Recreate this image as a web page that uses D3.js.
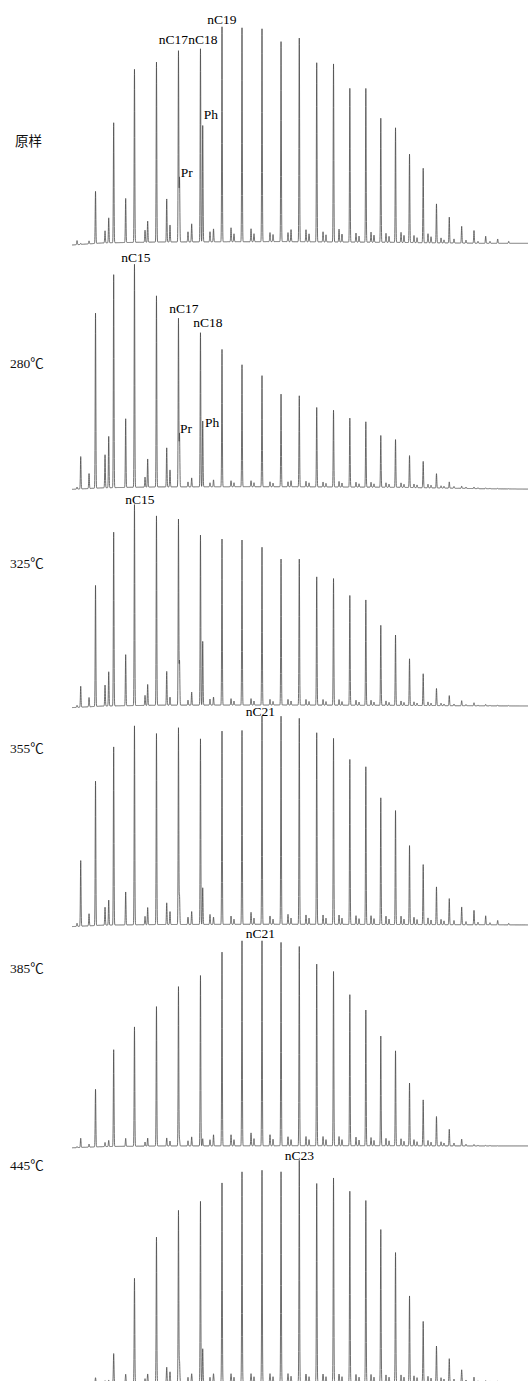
<!DOCTYPE html>
<html lang="zh">
<head>
  <meta charset="utf-8">
  <title>GC chromatograms</title>
  <script src="https://cdn.jsdelivr.net/npm/d3@7/dist/d3.min.js"></script>
  <style>
    body { margin: 0; background: #fff; }
  </style>
</head>
<body>
  <svg class="chart" width="528" height="1381"></svg>
  <script>
    // sample names (temperature steps)
    var panelNames = ["原样", "280℃", "325℃", "355℃", "385℃", "445℃"];

    // n-alkanes and retention times (min)
    var alkanes = ["nC12", "nC13", "nC14", "nC15", "nC16", "nC17", "nC18", "nC19", "nC20",
                   "nC21", "nC22", "nC23", "nC24", "nC25", "nC26", "nC27", "nC28", "nC29",
                   "nC30", "nC31", "nC32", "nC33", "nC34", "nC35", "nC36", "nC37", "nC38"];
    var alkaneRT = [5.09, 6.94, 9.21, 11.81, 14.56, 17.31, 20.06, 22.75, 25.25,
                    27.75, 30.13, 32.41, 34.59, 36.69, 38.73, 40.73, 42.6, 44.44,
                    46.19, 47.9, 49.56, 51.16, 52.71, 54.25, 55.71, 57.21, 58.59];

    // relative abundance (% of tallest peak in each run)
    var alkaneH = [
      [0.5, 24.2, 55.8, 80.5, 83.7, 88.8, 89.8, 100, 99.5, 99, 93, 94.7, 83.3, 82.8, 71.5, 71.5, 57.7, 53.3, 41.1, 34.6, 18.1, 12, 7.8, 5.9, 3.3, 2, 0.9],
      [14.5, 78.5, 95.5, 100, 85.7, 75.5, 69.1, 61.6, 54.7, 49.8, 41.5, 40.8, 35.6, 34.4, 30.9, 29.3, 23.2, 21.4, 14.3, 11.8, 6.4, 2.8, 1.0, 0.7, 0.4, 0.2, 0.1],
      [10.4, 60.2, 86.4, 100, 94.2, 92.5, 84.6, 82.6, 82.1, 78.5, 72.6, 72.6, 63.8, 63, 54.6, 52.4, 39.8, 35, 23.2, 15.8, 8.5, 5, 2.5, 1.5, 0.7, 0.4, 0.2],
      [31.5, 69.3, 85.5, 95.5, 91.7, 94.4, 89.1, 92.8, 93.1, 100, 99.9, 98.9, 92, 89.3, 79.2, 75.7, 60.8, 54.7, 37.9, 28.8, 18.1, 12.5, 8.5, 6.9, 4.3, 2.1, 0.7],
      [4.5, 28.1, 47.2, 58.2, 68, 77.7, 83.1, 94.5, 100, 100, 99.2, 97.2, 88.6, 85, 73.7, 66.2, 53.5, 46.3, 30.6, 22.4, 14.3, 8.1, 3.3, 0.7, 0.3, 0.1, 0],
      [0, 2.3, 13, 46.9, 65.4, 77.4, 81.5, 89.8, 94.8, 95.5, 94.8, 100, 89.5, 92, 86, 81.8, 68.7, 58.3, 38.7, 27.2, 16.1, 10.4, 5.4, 2.1, 0.5, 0.2, 0]
    ];

    // pristane / phytane
    var prRT = 17.44, phRT = 20.34;
    var prH = [29.8, 23.8, 22, 13.6, 3, 9.2];
    var phH = [54.1, 29.5, 31.7, 17.6, 3.5, 14.9];

    // unresolved small peaks between the alkanes
    var minorRT = [4.63, 6.13, 8.13, 8.59, 10.71, 13.13, 13.46, 15.84, 16.25, 18.5, 18.96, 21.25, 21.69,
                   23.88, 24.25, 26.38, 26.75, 28.75, 29.13, 31.0, 31.38, 33.25, 33.63, 35.38, 35.75,
                   37.38, 37.75, 39.5, 39.88, 41.38, 41.75, 43.25, 43.63, 45.13, 45.5, 46.75, 47.13,
                   48.5, 48.88, 50.13, 50.5, 51.75, 53.25, 54.75, 56.25];
    var minorH = [
      [1.9, 1.4, 5.6, 11.6, 20.5, 5.6, 9.8, 20, 7.9, 4.7, 8.4, 4.7, 6, 6.5, 3.7, 6, 3.7, 4.2, 3.3, 4.2, 5.6, 5.6, 3.7, 4.7, 3.3, 6, 3.7, 4.2, 2.8, 4.7, 3.3, 4.2, 2.8, 4.7, 3.3, 3.3, 2.3, 4.2, 2.8, 2.3, 1.4, 1.9, 1.4, 0.9, 0.9],
      [0.9, 6.7, 14.8, 23, 30.8, 4.5, 12.6, 17.5, 7.6, 2.2, 4, 1.8, 3.1, 2.7, 1.8, 2.7, 1.8, 2.2, 1.6, 2.2, 2.7, 2.5, 1.8, 2.2, 1.6, 2.5, 1.8, 2.2, 1.5, 2.2, 1.5, 2, 1.4, 2, 1.4, 1.6, 1.2, 1.6, 1.2, 1, 0.8, 0.8, 0.6, 0.4, 0.3],
      [1, 4.6, 10.4, 17, 25.4, 5, 10.4, 16.8, 4, 2.5, 6.5, 3, 4, 3.2, 2, 3.2, 2, 2.8, 1.8, 2.8, 2, 2.8, 1.8, 2.8, 1.8, 2.8, 1.8, 2.5, 1.6, 2.5, 1.6, 2.2, 1.5, 2.2, 1.5, 1.8, 1.2, 1.8, 1.2, 1.2, 0.8, 0.8, 0.6, 0.4, 0.3],
      [1.5, 5.8, 8.6, 12, 15.8, 4, 8.2, 10.4, 6.2, 3.5, 6.2, 4.8, 3.5, 4, 2.5, 5.8, 3, 4, 2.5, 4.8, 3, 4.5, 3, 4.5, 3, 4.5, 3, 4.2, 2.8, 4.2, 2.8, 4, 2.6, 4, 2.6, 3.5, 2.4, 3.2, 2.2, 2.5, 1.8, 2, 1.5, 1.2, 1],
      [0.5, 1.5, 2, 3, 3.9, 2, 3.9, 3.9, 2.4, 2.5, 4.4, 3, 5.4, 5.4, 3, 6.3, 3.5, 5.4, 3.2, 4.4, 3, 4.5, 3, 4.5, 3, 4.5, 3, 4.2, 2.8, 4, 2.6, 3.6, 2.4, 3.4, 2.2, 3, 2, 2.6, 1.8, 2, 1.4, 1.4, 0.8, 0.4, 0.3],
      [0, 0.3, 0.8, 1, 3.6, 1.5, 3.6, 6.6, 4.5, 2, 3.6, 2, 3.6, 3.6, 2, 3.6, 2.2, 3.6, 2.2, 3.6, 2.4, 3.4, 2.2, 3.4, 2.2, 3.4, 2.2, 3.2, 2, 3.2, 2, 3, 2, 3, 2, 2.6, 1.8, 2.4, 1.6, 1.8, 1.2, 1.2, 0.8, 0.4, 0.2]
    ];

    // unresolved hump under the baseline
    var ucmRT = [4, 8, 15, 30, 45, 55, 61];
    var ucmH = [
      [0, 1, 1.4, 1.6, 1.2, 0.8, 0.8],
      [0.3, 1, 1.4, 1.5, 1.2, 0.6, 0.4],
      [0.2, 1, 1.4, 1.5, 1.3, 1.1, 1],
      [0.2, 0.9, 1.2, 1.3, 1.2, 1.1, 1],
      [0.1, 0.7, 1, 1.1, 1.1, 1, 1],
      [0.1, 0.7, 1, 1.1, 1.1, 1, 1]
    ];

    // labelled peaks: [run, text]
    var peakLabels = [
      [0, "nC19"], [0, "nC17"], [0, "nC18"], [0, "Ph"], [0, "Pr"],
      [1, "nC15"], [1, "nC17"], [1, "nC18"], [1, "Pr"], [1, "Ph"],
      [2, "nC15"], [3, "nC21"], [4, "nC21"], [5, "nC23"]
    ];

    // ---- layout ----
    var width = 528, height = 1381;
    var baseY = [245, 490, 708, 927, 1148, 1384];
    var fullH = [215, 223, 201, 208.3, 205, 221.3];
    var nameY = [146, 368, 568, 753, 973, 1170];
    var nameX = [15, 10, 10, 10, 10, 10];
    // label offsets: dx from apex, dy above apex, anchor
    var labelShift = [
      [0, 3, "middle"], [-5, 7, "middle"], [2.5, 5, "middle"], [1, 6.7, "start"], [1.2, 0, "start"],
      [1.5, 2, "middle"], [5.5, 5.7, "middle"], [7.5, 6, "middle"], [0.5, 0, "start"], [2.3, -6, "start"],
      [5.5, 1, "middle"], [-1.5, 0, "middle"], [-1.5, 3, "middle"], [0, 0, "middle"]
    ];
    var sigma = 0.04, step = 0.01;

    var x = d3.scaleLinear().domain([4, 61]).range([72, 528]);

    var svg = d3.select("svg.chart");
    svg.append("rect").attr("width", width).attr("height", height).attr("fill", "#fff");

    panelNames.forEach(function(name, p) {
      var y = d3.scaleLinear().domain([0, 100]).range([baseY[p], baseY[p] - fullH[p]]);
      var ucm = d3.scaleLinear().domain(ucmRT).range(ucmH[p]).clamp(true);

      var peaks = [];
      alkaneRT.forEach(function(t, i) { peaks.push({ rt: t, h: alkaneH[p][i] }); });
      peaks.push({ rt: prRT, h: prH[p] }, { rt: phRT, h: phH[p] });
      minorRT.forEach(function(t, i) { peaks.push({ rt: t, h: minorH[p][i] }); });

      function signal(t) {
        var s = ucm(t);
        peaks.forEach(function(k) {
          var d = (t - k.rt) / sigma;
          if (d > -6 && d < 6) s += k.h * Math.exp(-0.5 * d * d);
        });
        return s;
      }

      var pts = d3.range(4, 61 + step / 2, step).map(function(t) { return [t, signal(t)]; });
      // make sure apexes are sampled
      peaks.forEach(function(k) { pts.push([k.rt, signal(k.rt)]); });
      pts.sort(function(a, b) { return a[0] - b[0]; });

      var line = d3.line()
                   .x(function(d) { return x(d[0]); })
                   .y(function(d) { return y(d[1]); });

      svg.append("path")
         .datum(pts)
         .attr("d", line)
         .attr("fill", "none")
         .attr("stroke", "#4a4a4a")
         .attr("stroke-width", 0.8)
         .attr("stroke-linejoin", "round");

      svg.append("text")
         .attr("x", nameX[p])
         .attr("y", nameY[p])
         .attr("font-family", "'Liberation Serif', 'Noto Sans CJK SC', serif")
         .attr("font-size", 13.5)
         .attr("fill", "#111")
         .text(name);

      peakLabels.forEach(function(l, j) {
        if (l[0] !== p) return;
        var t = l[1] === "Pr" ? prRT : l[1] === "Ph" ? phRT : alkaneRT[alkanes.indexOf(l[1])];
        var sh = labelShift[j];
        svg.append("text")
           .attr("x", x(t) + sh[0])
           .attr("y", y(signal(t)) - sh[1])
           .attr("text-anchor", sh[2])
           .attr("font-family", "'Liberation Serif', serif")
           .attr("font-size", 13.5)
           .attr("fill", "#000")
           .text(l[1]);
      });
    });
  </script>
</body>
</html>
